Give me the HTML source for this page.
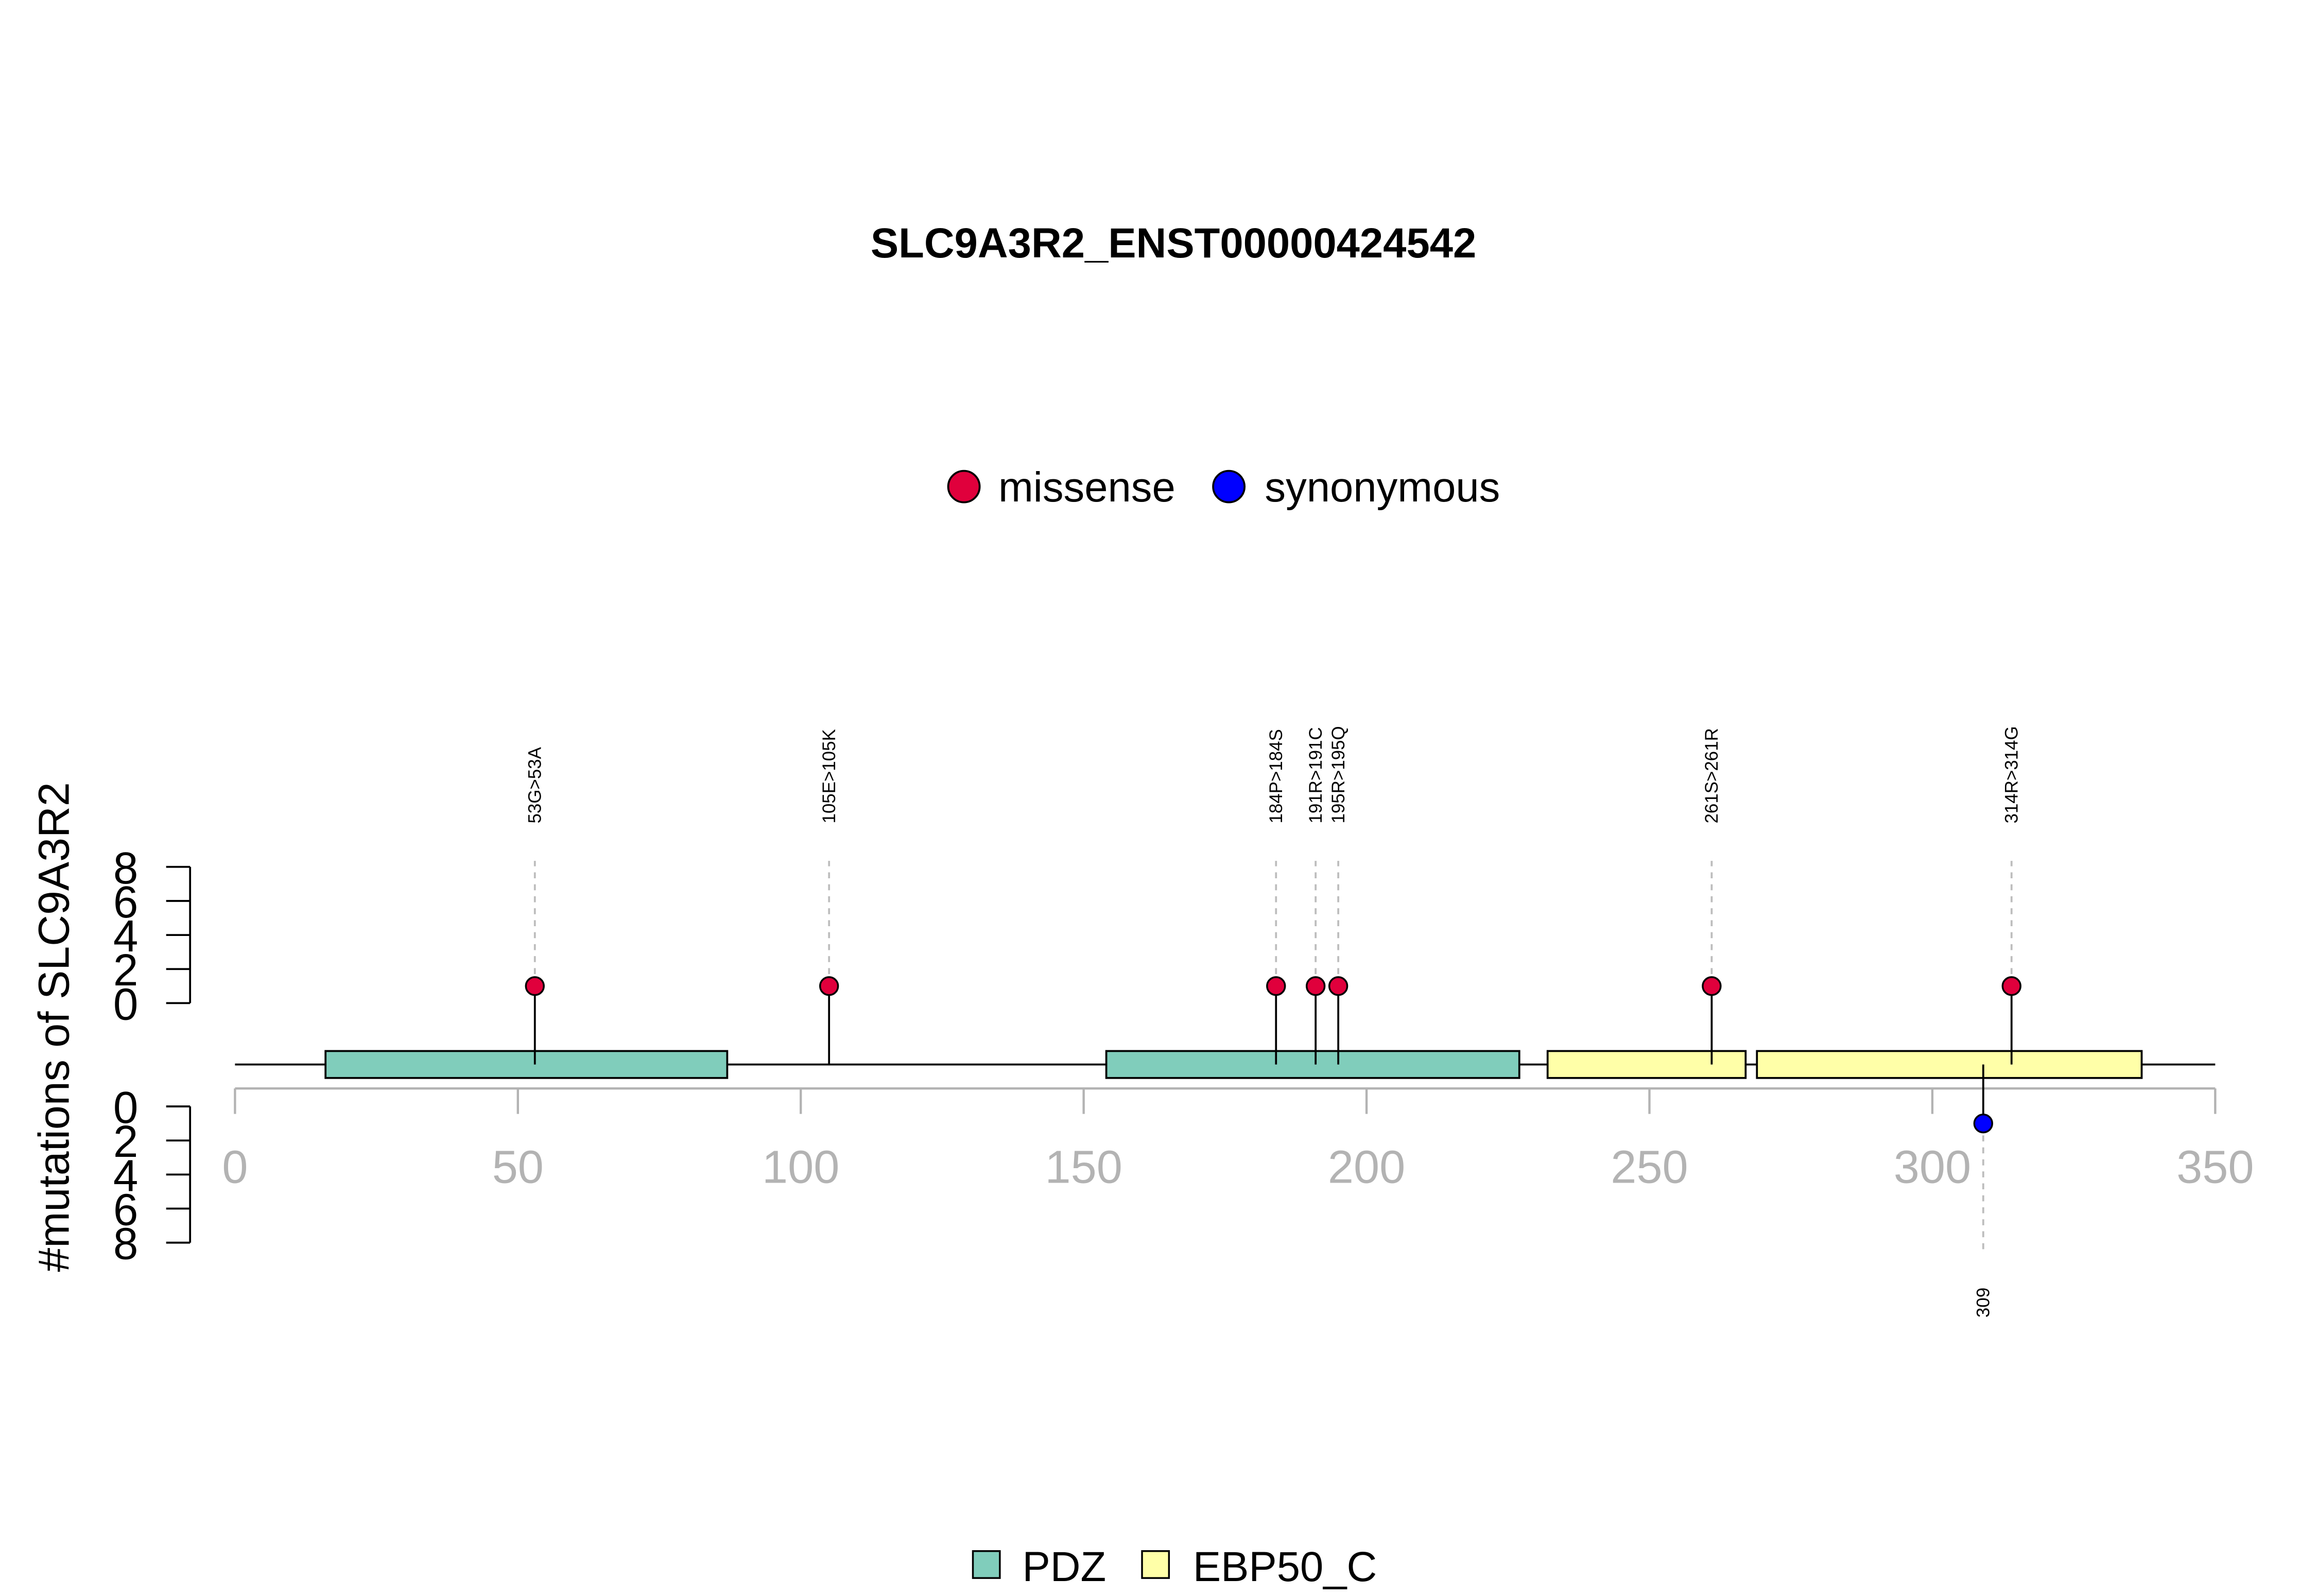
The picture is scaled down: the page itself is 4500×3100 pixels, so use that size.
<!DOCTYPE html>
<html><head><meta charset="utf-8"><style>
html,body{margin:0;padding:0;background:#fff;}
svg{display:block;font-family:"Liberation Sans",Arial,sans-serif;}
</style></head><body>
<svg id="chart" width="4500" height="3100" viewBox="0 0 1548 1066" preserveAspectRatio="none" xmlns="http://www.w3.org/2000/svg">
<text x="784" y="172" text-anchor="middle" font-size="28" font-weight="bold">SLC9A3R2_ENST00000424542</text>
<g>
<circle cx="644" cy="325" r="10.5" fill="#e0003c" stroke="#000" stroke-width="1.3"/>
<text x="667" y="335" font-size="28">missense</text>
<circle cx="821" cy="325" r="10.5" fill="#0000ff" stroke="#000" stroke-width="1.3"/>
<text x="845" y="335" font-size="28">synonymous</text>
</g>
<text transform="translate(46,686) rotate(-90)" text-anchor="middle" font-size="29">#mutations of SLC9A3R2</text>
<g id="axes"></g>
<g id="marks"></g>
<g>
<rect x="650" y="1036" width="18" height="18" fill="#80cdbb" stroke="#000" stroke-width="1.2"/>
<text x="683" y="1056" font-size="28">PDZ</text>
<rect x="763" y="1036" width="18" height="18" fill="#ffffa8" stroke="#000" stroke-width="1.2"/>
<text x="797" y="1056" font-size="28">EBP50_C</text>
</g>
</svg>
<script>
const xTicks = [0, 50, 100, 150, 200, 250, 300, 350];
const yTicks = [0, 2, 4, 6, 8];
const domainNames = ["PDZ", "PDZ", "EBP50_C", "EBP50_C"];
const domainStart = [16, 154, 232, 269];
const domainEnd = [87, 227, 267, 337];
const missensePos = [53, 105, 184, 191, 195, 261, 314];
const missenseLabels = ["53G>53A", "105E>105K", "184P>184S", "191R>191C", "195R>195Q", "261S>261R", "314R>314G"];
const missenseCount = [1, 1, 1, 1, 1, 1, 1];
const synPos = [309];
const synLabels = ["309"];
const synCount = [1];

const NS = "http://www.w3.org/2000/svg";
const X = v => 157 + (v / 350) * (1480 - 157);
const YU = v => 670 - (v / 8) * (670 - 579);
const YD = v => 739 + (v / 8) * (830 - 739);
const BB = 711;
function mk(tag, attrs, parent) {
  const e = document.createElementNS(NS, tag);
  for (const k in attrs) e.setAttribute(k, attrs[k]);
  parent.appendChild(e);
  return e;
}
const axes = document.getElementById('axes');
const marks = document.getElementById('marks');

const xl = mk('line', {x1: X(0), x2: X(350), y1: 727, y2: 727, stroke: '#b3b3b3', 'stroke-width': 1.5}, axes);


xTicks.forEach(t => {
  const tk = mk('line', {x1: X(t), x2: X(t), y1: 727, y2: 744, stroke: '#b3b3b3', 'stroke-width': 1.5}, axes);
  
  
  const tx = mk('text', {x: X(t), y: 790, 'text-anchor': 'middle', 'font-size': 31, fill: '#b3b3b3'}, axes);
  tx.textContent = t;
  
  
});
[[YU, 'upper'], [YD, 'lower']].forEach(([Y, nm]) => {
  const al = mk('line', {x1: 127, x2: 127, y1: Y(0), y2: Y(8), stroke: '#000', 'stroke-width': 1.3}, axes);
  
  
  yTicks.forEach(t => {
    const tk = mk('line', {x1: 111, x2: 127, y1: Y(t), y2: Y(t), stroke: '#000', 'stroke-width': 1.3}, axes);
    
    
    const tx = mk('text', {x: 84, y: Y(t) + 11, 'text-anchor': 'middle', 'font-size': 30}, axes);
    tx.textContent = t;
    
    
  });
});
const bb = mk('line', {x1: X(0), x2: X(350), y1: BB, y2: BB, stroke: '#000', 'stroke-width': 1.3}, marks);


domainNames.forEach((n, i) => {
  const r = mk('rect', {x: X(domainStart[i]), y: 702, width: X(domainEnd[i]) - X(domainStart[i]), height: 18,
    fill: n === 'PDZ' ? '#80cdbb' : '#ffffa8', stroke: '#000', 'stroke-width': 1.3}, marks);
  
  
});
missensePos.forEach((p, i) => {
  const x = X(p), y = YU(missenseCount[i]);
  const d = mk('line', {x1: x, x2: x, y1: y, y2: 575, stroke: '#bdbdbd', 'stroke-width': 1.3, 'stroke-dasharray': '4,4'}, marks);
  
  
  const s = mk('line', {x1: x, x2: x, y1: BB, y2: y, stroke: '#000', 'stroke-width': 1.3}, marks);
  
  
  const c = mk('circle', {cx: x, cy: y, r: 6, fill: '#e0003c', stroke: '#000', 'stroke-width': 1.2}, marks);
  
  
  const t = mk('text', {transform: `translate(${x + 4},${550}) rotate(-90)`, 'font-size': 12}, marks);
  t.textContent = missenseLabels[i];
  
  
});
synPos.forEach((p, i) => {
  const x = X(p), y = YD(synCount[i]);
  const d = mk('line', {x1: x, x2: x, y1: y, y2: 836, stroke: '#bdbdbd', 'stroke-width': 1.3, 'stroke-dasharray': '4,4'}, marks);
  
  
  const s = mk('line', {x1: x, x2: x, y1: BB, y2: y, stroke: '#000', 'stroke-width': 1.3}, marks);
  
  
  const c = mk('circle', {cx: x, cy: y, r: 6, fill: '#0000ff', stroke: '#000', 'stroke-width': 1.2}, marks);
  
  
  const t = mk('text', {transform: `translate(${x + 4},${880}) rotate(-90)`, 'font-size': 12}, marks);
  t.textContent = synLabels[i];
  
  
});
</script>
</body></html>
